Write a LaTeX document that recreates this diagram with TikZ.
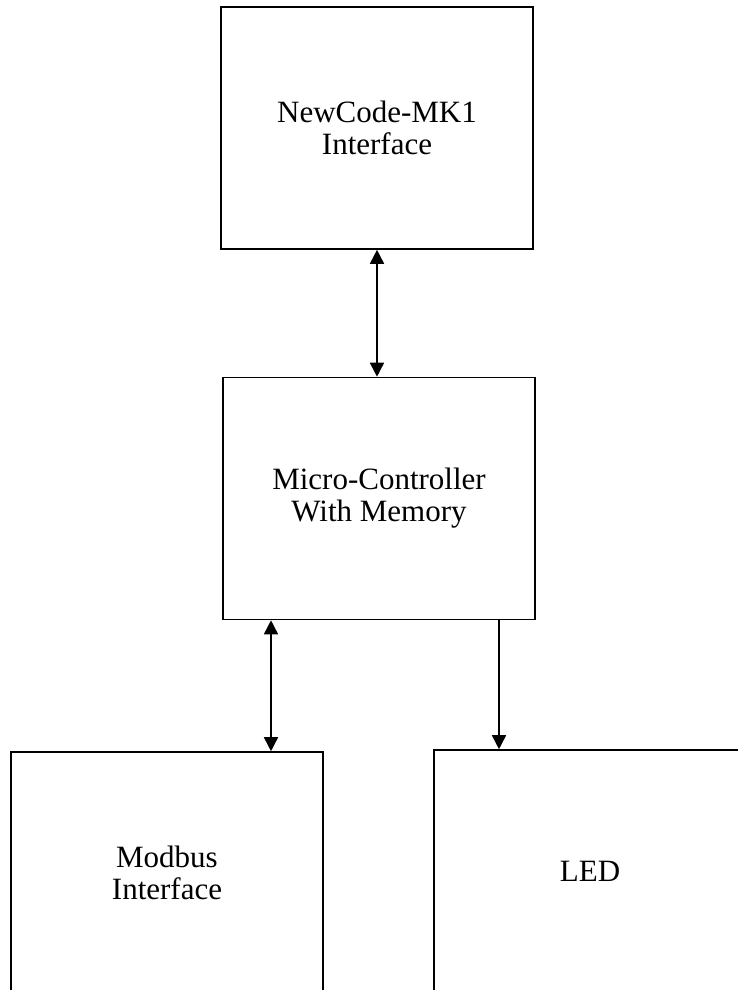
\documentclass[tikz,border=0pt]{standalone}
\usepackage{fontspec}
\setmainfont{Liberation Serif}
\usetikzlibrary{arrows.meta}

\begin{document}
\begin{tikzpicture}[x=1pt,y=-1pt,font=\fontsize{31}{32}\selectfont,>={Triangle[length=14pt,width=14pt]},line width=1.6pt,
  blk/.style={draw, line width=1.6pt, inner sep=0pt, align=center, minimum width=312pt, minimum height=242pt}]
\useasboundingbox (0,0) rectangle (737,990);
\node[blk] (mk1) at (377,128) {NewCode-MK1\\Interface};
\node[blk] (mcu) at (379,498.5) {Micro-Controller\\With Memory};
\node[blk] (modbus) at (167,873) {Modbus\\Interface};
\node[blk] (led) at (590,871) {LED};

\draw[<->] (mk1.south) -- (mk1.south |- mcu.north);
\draw[<->] ([xshift=-108pt]mcu.south) -- ([xshift=-108pt]mcu.south |- modbus.north);
\draw[->] ([xshift=120pt]mcu.south) -- ([xshift=120pt]mcu.south |- led.north);
\end{tikzpicture}
\end{document}
